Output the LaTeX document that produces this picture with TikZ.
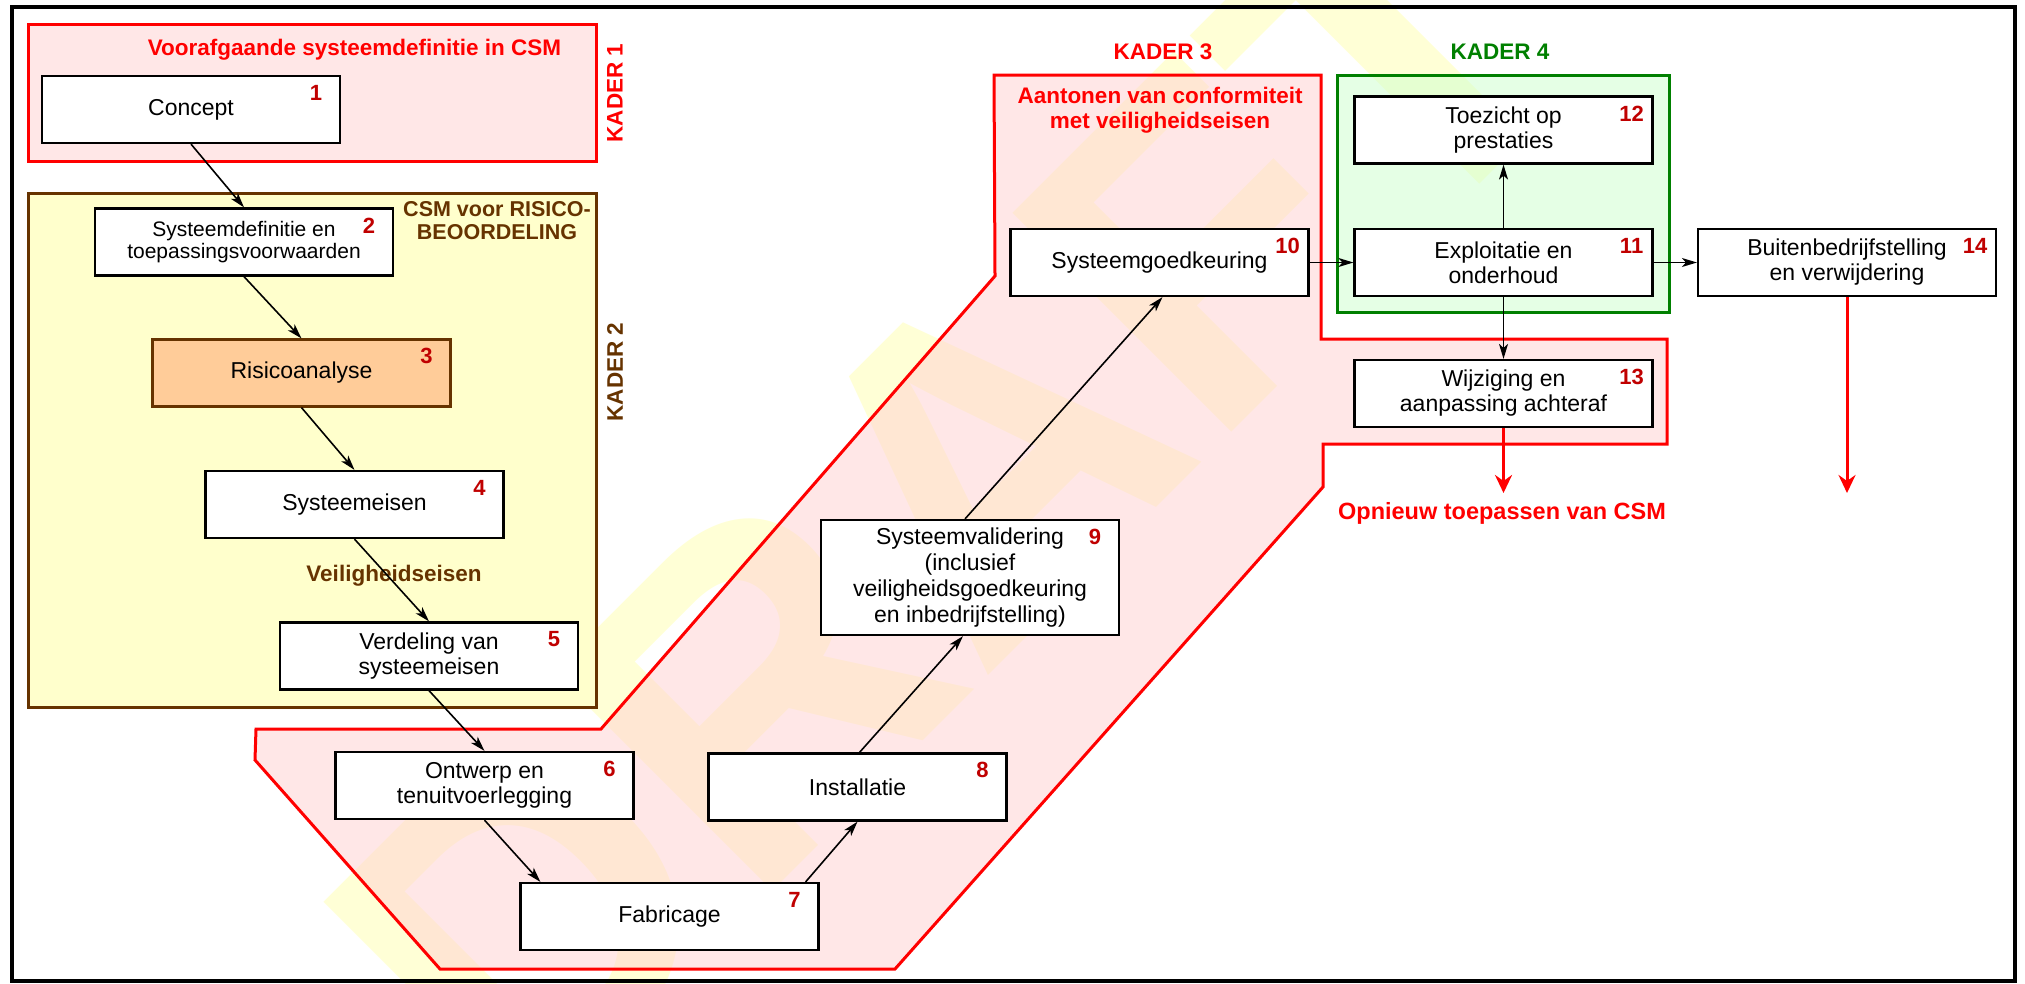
\documentclass[tikz,border=0pt]{standalone}
\usepackage{fontspec}
\setmainfont{Liberation Sans}
\usetikzlibrary{arrows.meta,calc}

\definecolor{kred}{RGB}{255,0,0}
\definecolor{numred}{RGB}{192,0,0}
\definecolor{kbrown}{RGB}{102,51,0}
\definecolor{kgreen}{RGB}{0,128,0}
\definecolor{pinkfill}{RGB}{255,208,208}
\definecolor{greenfill}{RGB}{205,255,205}
\definecolor{yellowfill}{RGB}{255,255,204}
\definecolor{orangefill}{RGB}{255,204,153}
\definecolor{wmark}{RGB}{255,255,214}

\tikzset{
  box/.style={draw=black, line width=2.2pt, fill=white, minimum width=298pt,
    minimum height=67pt, inner sep=0pt, align=center,
    font=\fontsize{23}{25}\selectfont},
  num/.style={text=numred, font=\fontsize{22}{22}\selectfont\bfseries, inner sep=0pt},
  boldlabel/.style={font=\fontsize{22.5}{25}\selectfont\bfseries, align=center, inner sep=0pt},
  flow/.style={black, line width=1.6pt, -{Stealth[length=15pt,width=9pt,inset=4pt]}},
  exitflow/.style={kred, line width=3pt, -{Stealth[length=18pt,width=17pt,inset=6pt]}},
  frameline/.style={line width=3pt, line join=miter},
}

\begin{document}
\begin{tikzpicture}[x=1pt,y=-1pt]
\useasboundingbox (0,0) rectangle (2025,983);
\fill[white] (0,0) rectangle (2025,983);

% background watermark
\begin{scope}
  \clip (0,0) rectangle (2025,983);
  \node[text=wmark, rotate=45, inner sep=0pt,
        font=\fontsize{450}{450}\selectfont\bfseries] (wm) at (951,494) {DRAFT};
\end{scope}

% frame fills
\fill[pinkfill, fill opacity=0.49] (28,24) rectangle (596,161);
\fill[yellowfill] (28,193) rectangle (596,707);
\fill[pinkfill, fill opacity=0.49]
  (994,75) -- (1321,75) -- (1321,339) -- (1667,339) -- (1667,444) -- (1323,444)
  -- (1323,487) -- (895,969) -- (440,969) -- (255,760) -- (256,729) -- (601,729)
  -- (995,276) -- cycle;
\fill[greenfill, fill opacity=0.5] (1337,75) rectangle (1669,312);

% frame outlines
\draw[frameline, kred] (28,24) rectangle (596,161);
\draw[frameline, kbrown] (28,193) rectangle (596,707);
\draw[frameline, kred]
  (994,75) -- (1321,75) -- (1321,339) -- (1667,339) -- (1667,444) -- (1323,444)
  -- (1323,487) -- (895,969) -- (440,969) -- (255,760) -- (256,729) -- (601,729)
  -- (995,276) -- cycle;
\draw[frameline, kgreen] (1337,75) rectangle (1669,312);

% outer border
\draw[line width=4pt] (11.5,6.5) rectangle (2015,981);

% frame titles
\node[boldlabel, text=kred] (t1) at (354.5,50) {Voorafgaande systeemdefinitie in CSM};
\node[boldlabel, text=kred, rotate=90] (k1) at (615,93) {KADER 1};
\node[boldlabel, text=kbrown, font=\fontsize{21.5}{23}\selectfont\bfseries] (t2) at (497,221) {CSM voor RISICO-\\BEOORDELING};
\node[boldlabel, text=kbrown, rotate=90] (k2) at (615,372) {KADER 2};
\node[boldlabel, text=kbrown] (vs) at (394,576) {Veiligheidseisen};
\node[boldlabel, text=kred] (k3) at (1163,52) {KADER 3};
\node[boldlabel, text=kred] (t3) at (1160,110.5) {Aantonen van conformiteit\\met veiligheidseisen};
\node[boldlabel, text=kgreen] (k4) at (1500,52) {KADER 4};
\node[boldlabel, text=kred, font=\fontsize{23.5}{25}\selectfont\bfseries] (re) at (1502,513) {Opnieuw toepassen van CSM};

% process steps
\node[box] (b1) at (191,109.5) {Concept};
\node[box, font=\fontsize{21}{22.5}\selectfont] (b2) at (244,242) {Systeemdefinitie en\\toepassingsvoorwaarden};
\node[box, fill=orangefill, draw=kbrown] (b3) at (301.5,373) {Risicoanalyse};
\node[box] (b4) at (354.5,504.5) {Systeemeisen};
\node[box] (b5) at (429,656) {Verdeling van\\systeemeisen};
\node[box] (b6) at (484.5,785.5) {Ontwerp en\\tenuitvoerlegging};
\node[box] (b7) at (669.5,916.5) {Fabricage};
\node[box] (b8) at (857.5,787) {Installatie};
\node[box, minimum height=115pt, font=\fontsize{23}{26}\selectfont] (b9) at (970,577.5)
  {Systeemvalidering\\(inclusief\\veiligheidsgoedkeuring\\en inbedrijfstelling)};
\node[box] (b10) at (1159.5,262.5) {Systeemgoedkeuring};
\node[box] (b11) at (1503.5,262.5) {Exploitatie en\\onderhoud};
\node[box] (b12) at (1503.5,130) {Toezicht op\\prestaties};
\node[box] (b13) at (1503.5,393.5) {Wijziging en\\aanpassing achteraf};
\node[box] (b14) at (1847,262.5) {Buitenbedrijfstelling\\en verwijdering};

% step numbers
\foreach \b/\n in {b1/1,b2/2,b3/3,b4/4,b5/5,b6/6,b7/7,b8/8,b9/9}
  \node[num] (n\n) at ($(\b.north east)+(-25,18)$) {\n};
\foreach \b/\n in {b10/10,b11/11,b12/12,b13/13,b14/14}
  \node[num] (n\n) at ($(\b.north east)+(-22,18)$) {\n};

% flow arrows
\draw[flow] (b1.south) -- (b2.north);
\draw[flow] (b2.south) -- (b3.north);
\draw[flow] (b3.south) -- (b4.north);
\draw[flow] (b4.south) -- (b5.north);
\draw[flow] (b5.south) -- (b6.north);
\draw[flow] (b6.south) -- ($(b7.north west)+(21,0)$);
\draw[flow] ($(b7.north east)+(-14,0)$) -- (b8.south);
\draw[flow] ($(b8.north)+(2,0)$) -- ($(b9.south)+(-7,0)$);
\draw[flow] ($(b9.north)+(-5,0)$) -- ($(b10.south)+(3,0)$);
\draw[flow] (b10.east) -- (b11.west);
\draw[flow] (b11.north) -- (b12.south);
\draw[flow] (b11.south) -- (b13.north);
\draw[flow] (b11.east) -- (b14.west);

% exits towards re-application and end of life
\coordinate (e13) at (1503.5,493);
\coordinate (e14) at (1847,493);
\draw[exitflow] (b13.south) -- (e13);
\draw[exitflow] (b14.south) -- (e14);
\end{tikzpicture}
\end{document}
